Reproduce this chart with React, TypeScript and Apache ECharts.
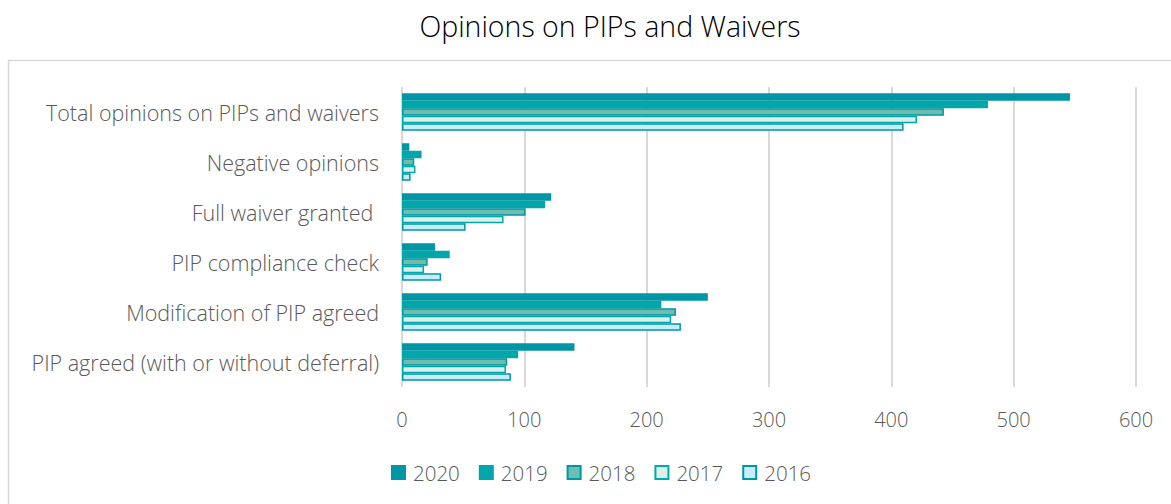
import React, { useEffect, useRef } from "react";
import * as echarts from "echarts";

const categories = [
  "PIP agreed (with or without deferral)",
  "Modification of PIP agreed",
  "PIP compliance check",
  "Full waiver granted ",
  "Negative opinions",
  "Total opinions on PIPs and waivers",
];
const years = ["2020", "2019", "2018", "2017", "2016"];
const v2020 = [141, 250, 27, 122, 6, 546];
const v2019 = [95, 212, 39, 117, 16, 479];
const v2018 = [86, 224, 21, 101, 10, 443];
const v2017 = [85, 220, 18, 83, 11, 421];
const v2016 = [89, 228, 32, 52, 7, 410];
const xTicks = { min: 0, max: 600, interval: 100 };

const seriesValues = [v2020, v2019, v2018, v2017, v2016];
const fills = ["#0096A6", "#00A6A9", "#6CBFAF", "#DDEFE9", "#C6EDFA"];
const borders = ["#0096A6", "#00A6A9", "#0096A6", "#00A9AC", "#0096A6"];

export default function App() {
  const ref = useRef<HTMLDivElement>(null);
  useEffect(() => {
    document.body.style.margin = "0";
    const chart = echarts.init(ref.current!, null, { renderer: "svg" });
    const font = "'Open Sans', sans-serif";
    chart.setOption({
      animation: false,
      backgroundColor: "#ffffff",
      title: {
        text: "Opinions on PIPs and Waivers",
        left: 605,
        top: 6,
        textAlign: "center",
        textStyle: { fontFamily: font, fontSize: 28.5, fontWeight: 300, color: "#000000" },
      },
      graphic: [
        {
          type: "rect",
          shape: { x: 8.5, y: 60.5, width: 1300, height: 600 },
          style: { fill: "none", stroke: "#d9d9d9", lineWidth: 1.5 },
          z: -1,
        },
      ],
      legend: {
        data: years,
        left: 386,
        top: 457,
        itemWidth: 13,
        itemHeight: 13,
        itemGap: 19,
        icon: "rect",
        textStyle: { fontFamily: font, fontSize: 20.5, fontWeight: 300, color: "#595959", padding: [0, 0, 0, 3] },
      },
      grid: { left: 402, right: 35, top: 87, bottom: 117, containLabel: false },
      xAxis: {
        type: "value",
        min: xTicks.min,
        max: xTicks.max,
        interval: xTicks.interval,
        axisLine: { show: false },
        axisTick: { show: false },
        axisLabel: { fontFamily: font, fontSize: 20, fontWeight: 300, color: "#595959", margin: 22 },
        splitLine: { lineStyle: { color: "#d9d9d9", width: 2 } },
      },
      yAxis: {
        type: "category",
        data: categories,
        axisLine: { show: false },
        axisTick: { show: false },
        axisLabel: { fontFamily: font, fontSize: 21.5, fontWeight: 300, color: "#595959", margin: 23 },
      },
      series: years.map((y, i) => ({
        name: y,
        type: "bar",
        data: seriesValues[i],
        barGap: "0%",
        barCategoryGap: "25%",
        itemStyle: { color: fills[i], borderColor: borders[i], borderWidth: 1.5 },
      })),
    });
    return () => chart.dispose();
  }, []);
  return <div ref={ref} style={{ width: 1171, height: 504 }} />;
}
